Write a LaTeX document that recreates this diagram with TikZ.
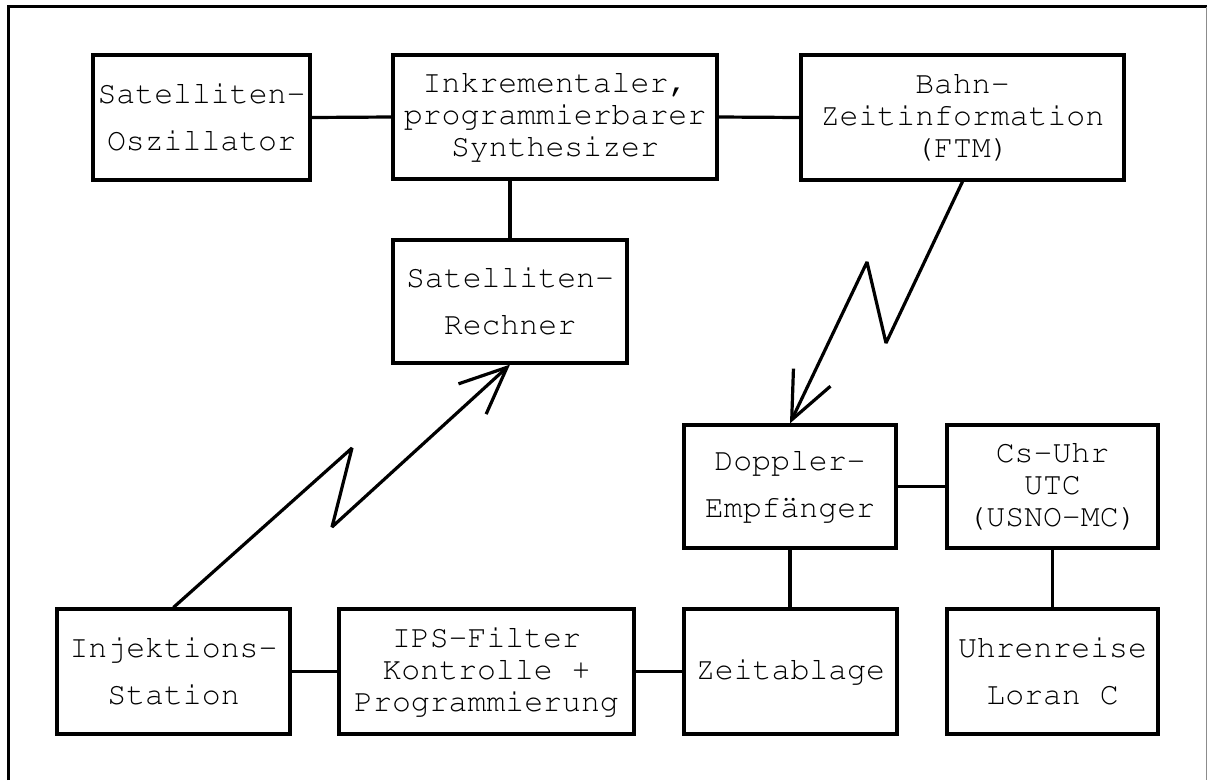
\documentclass[tikz,border=0pt]{standalone}
\usepackage[T1]{fontenc}
\usetikzlibrary{arrows.meta}
\newcommand\monotype{\fontfamily{pcr}\selectfont}
\begin{document}
\begin{tikzpicture}[x=1pt,y=-1pt,
  blk/.style={draw, line width=3.2pt, align=center, inner sep=0pt,
    font=\monotype\fontsize{31.5}{47}\selectfont},
  tight/.style={font=\monotype\fontsize{31.5}{32}\selectfont},
  wire/.style={line width=3.2pt},
  bolt/.style={line width=3.2pt, line join=bevel,
    -{Straight Barb[length=47pt,width=41pt]}}
]
\useasboundingbox (0,0) rectangle (1208,780);

% outer frame
\draw[line width=3pt] (8,780) -- (8,6.5) -- (1207,6.5);
\draw[line width=1pt, black!45] (1206.5,6.5) -- (1206.5,780);

% blocks
\node[blk, minimum width=217pt, minimum height=125pt] (osz) at (201.5,117.5)
  {Satelliten-\\Oszillator};
\node[blk, tight, minimum width=324pt, minimum height=124pt] (syn) at (555,117)
  {Inkrementaler,\\programmierbarer\\Synthesizer};
\node[blk, tight, minimum width=323pt, minimum height=125pt] (bahn) at (962.5,117.5)
  {Bahn-\\Zeitinformation\\(FTM)};
\node[blk, minimum width=234pt, minimum height=123pt] (rech) at (510,301.5)
  {Satelliten-\\Rechner};
\node[blk, minimum width=212pt, minimum height=123pt] (dop) at (790,486.5)
  {Doppler-\\Empf\"anger};
\node[blk, tight, minimum width=211pt, minimum height=123pt] (cs) at (1052.5,486.5)
  {Cs-Uhr\\UTC\\(USNO-MC)};
\node[blk, minimum width=233pt, minimum height=125pt] (inj) at (173.5,671.5)
  {Injektions-\\Station};
\node[blk, tight, minimum width=295pt, minimum height=125pt] (ips) at (486.5,671.5)
  {IPS-Filter\\Kontrolle +\\Programmierung};
\node[blk, minimum width=213pt, minimum height=125pt] (zeit) at (790.5,671.5)
  {Zeitablage};
\node[blk, minimum width=211pt, minimum height=125pt] (uhr) at (1052.5,671.5)
  {Uhrenreise\\Loran C};

% wired links
\draw[wire] (osz.east) -- (syn.west);
\draw[wire] (syn.east) -- (bahn.west);
\draw[wire] (rech.north) -- (rech.north |- syn.south);
\draw[wire] (dop.east) -- (cs.west);
\draw[wire] (dop.south) -- (dop.south |- zeit.north);
\draw[wire] (cs.south) -- (uhr.north);
\draw[wire] (inj.east) -- (ips.west);
\draw[wire] (ips.east) -- (zeit.west);

% radio links
\coordinate (b1) at (886,343);
\coordinate (b2) at (867,262);
\draw[bolt] (bahn.south) -- (b1) -- (b2) -- (dop.north);
\coordinate (c1) at (352,448);
\coordinate (c2) at (332,527);
\draw[bolt] (inj.north) -- (c1) -- (c2) -- (rech.south);
\end{tikzpicture}
\end{document}
